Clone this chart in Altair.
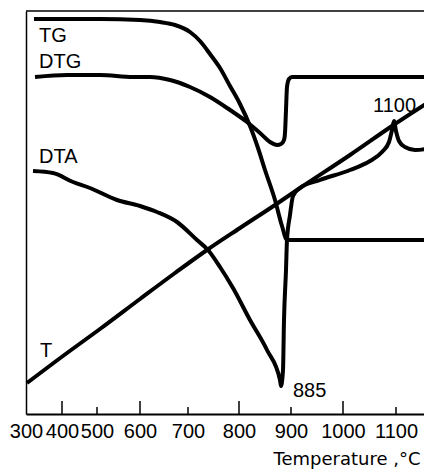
import altair as alt
import pandas as pd

# x: heating time (arbitrary units); y: signal (arbitrary units)
tg_t = [2.0, 18.5, 28.5, 33.5, 37.25, 41.0, 43.5, 46.0, 48.5, 51.0, 53.5, 56.0, 58.0, 59.75, 62.25, 64.0, 65.25, 101.5]
tg_v = [98.75, 98.75, 98.5, 98.0, 97.25, 95.5, 93.25, 90.0, 86.5, 82.0, 77.5, 72.0, 66.5, 61.0, 53.5, 47.0, 43.5, 43.5]

dtg_t = [2.25, 10.25, 18.5, 26.75, 31.0, 36.0, 41.0, 46.0, 51.0, 55.25, 58.5, 61.0, 62.75, 63.75, 64.5, 64.75, 65.0, 65.25, 65.75, 66.5, 101.5]
dtg_v = [84.25, 84.75, 84.75, 84.25, 84.25, 83.5, 81.75, 79.25, 76.0, 73.0, 70.25, 68.0, 67.25, 67.5, 68.5, 70.25, 76.0, 81.75, 83.75, 84.25, 84.25]

dta_t = [1.75, 6.75, 11.75, 16.0, 22.75, 28.5, 32.75, 37.75, 42.75, 45.5, 48.5, 51.75, 56.0, 60.25, 63.5, 63.75,
         64.25, 64.5, 65.0, 65.25, 66.0, 66.75, 68.5, 73.5, 81.0, 86.0, 89.0, 90.75, 91.5, 92.0,
         92.5, 93.25, 94.75, 97.25, 99.75, 101.5]
dta_v = [60.75, 60.25, 58.0, 56.5, 53.5, 52.0, 50.5, 48.0, 43.5, 41.0, 36.75, 31.5, 23.5, 16.0, 8.5, 7.0,
         11.0, 23.5, 36.0, 43.5, 49.75, 54.5, 56.5, 58.5, 61.0, 63.25, 65.5, 68.0, 71.0, 73.25,
         70.75, 68.25, 66.75, 66.0, 66.25, 66.75]

t_t = [0.25, 10.25, 18.5, 28.5, 37.25, 45.25, 53.5, 62.25, 68.5, 81.0, 91.5, 101.5]
t_v = [7.75, 15.25, 21.25, 28.75, 35.25, 41.0, 46.5, 52.25, 56.5, 64.75, 72.0, 78.5]

tick_temps = [300, 400, 500, 600, 700, 800, 900, 1000, 1100]
tick_times = [0, 9.0, 17.75, 28.5, 40.5, 53.25, 66.25, 79.25, 92.5]

label_text = ["TG", "DTG", "DTA", "T", "1100", "885"]
label_t = [3.25, 3.25, 3.25, 3.5, 86.75, 66.75]
label_v = [93.0, 86.5, 62.75, 14.25, 75.5, 4.25]

W, H = 398, 403
X_MAX, Y_MAX = 99.5, 100.75

rows = []
for name, ts, vs in [("TG", tg_t, tg_v), ("DTG", dtg_t, dtg_v), ("DTA", dta_t, dta_v), ("T", t_t, t_v)]:
    for i, (a, b) in enumerate(zip(ts, vs)):
        rows.append({"series": name, "i": i, "t": a, "v": b})
curves = pd.DataFrame(rows)
labels = pd.DataFrame({"text": label_text, "t": label_t, "v": label_v})
ticks = pd.DataFrame({"t": tick_times, "temp": tick_temps, "v": [0] * len(tick_times)})

xscale = alt.Scale(domain=[0, X_MAX], nice=False, zero=False)
yscale = alt.Scale(domain=[0, Y_MAX], nice=False, zero=False)

label_expr = f"{tick_temps}[indexof({tick_times}, datum.value)]"

xaxis = alt.Axis(values=tick_times, labelExpr=label_expr, ticks=False, tickSize=0, grid=False,
                 domain=True, domainColor="black", domainWidth=2,
                 labelFont="Liberation Sans", labelFontSize=20, labelColor="black",
                 labelPadding=7, labelOverlap=False, labelFlush=False,
                 title="Temperature ,°C", titleFont="DejaVu Sans", titleFontSize=18,
                 titleFontWeight="normal", titleColor="black", titleX=394, titleY=50,
                 titleAlign="right", titleBaseline="alphabetic")
yaxis = alt.Axis(labels=False, ticks=False, title=None, grid=False, domain=True,
                 domainColor="black", domainWidth=1.5)

X = alt.X("t:Q", scale=xscale, axis=xaxis, title="Temperature ,°C")
Y = alt.Y("v:Q", scale=yscale, axis=yaxis, title=None)

lines = alt.Chart(curves).mark_line(color="black", strokeWidth=4, interpolate="monotone",
                                    clip=True, strokeJoin="round").encode(
    x=X, y=Y, detail="series:N", order="i:Q",
)

texts = alt.Chart(labels).mark_text(align="left", baseline="alphabetic", font="Liberation Sans",
                                    fontSize=20, color="black").encode(
    x=X, y=Y, text="text:N",
)

major = alt.Chart(ticks).transform_filter("datum.temp % 200 == 0").mark_rule(
    color="black", strokeWidth=1.5).encode(
    x=X, y=alt.value(H - 13), y2=alt.value(H),
)
minor = alt.Chart(ticks).transform_filter("datum.temp % 200 == 100 && datum.temp > 300").mark_rule(
    color="black", strokeWidth=1.5).encode(
    x=X, y=alt.value(H - 7), y2=alt.value(H),
)

top = alt.Chart(pd.DataFrame({"a": [0]})).mark_rule(color="black", strokeWidth=1.5).encode(
    x=alt.value(0), x2=alt.value(W), y=alt.value(0)
)

chart = alt.layer(lines, texts, major, minor, top).properties(
    width=W, height=H,
    autosize=alt.AutoSizeParams(type="none"),
    padding={"left": 18, "top": 3, "right": 0, "bottom": 56},
    background="white",
).configure_view(stroke=None)

chart.save("out.html", embed_options={"renderer": "svg", "actions": False})
